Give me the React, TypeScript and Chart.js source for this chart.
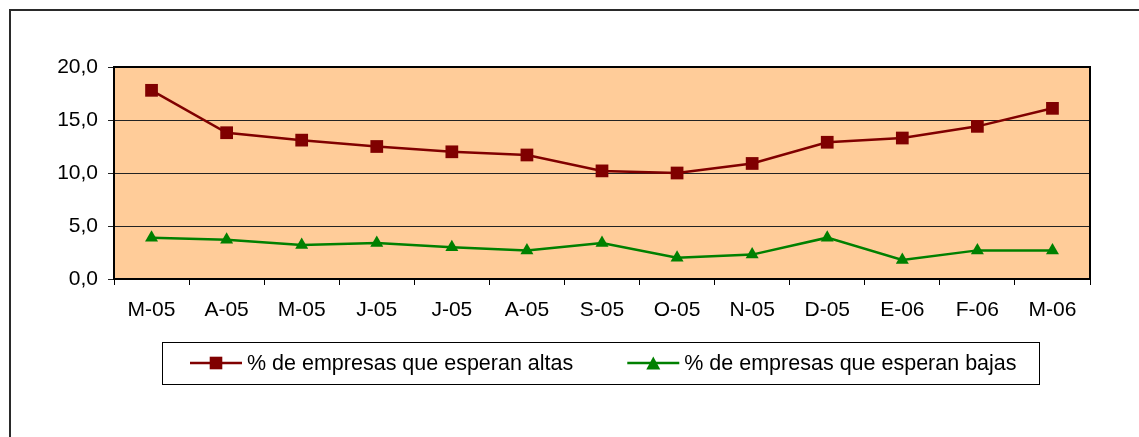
import { useEffect, useRef } from 'react';
import { Chart, registerables } from 'chart.js';

Chart.register(...registerables);

const categories = ['M-05', 'A-05', 'M-05', 'J-05', 'J-05', 'A-05', 'S-05', 'O-05', 'N-05', 'D-05', 'E-06', 'F-06', 'M-06'];
const altas = [17.8, 13.8, 13.1, 12.5, 12.0, 11.7, 10.2, 10.0, 10.9, 12.9, 13.3, 14.4, 16.1];
const bajas = [3.9, 3.7, 3.2, 3.4, 3.0, 2.7, 3.4, 2.0, 2.3, 3.9, 1.8, 2.7, 2.7];
const seriesLabels = ['% de empresas que esperan altas', '% de empresas que esperan bajas'];
const yTicks = [0, 5, 10, 15, 20];

const W = 1139;
const H = 437;
const FONT = '"Liberation Sans", Arial, Helvetica, sans-serif';
const ALTAS_COLOR = '#800000';
const BAJAS_COLOR = '#008000';
const PLOT_BG = '#FFCC99';

const framePlugin = {
  id: 'frame',
  beforeDraw(chart: any) {
    const { ctx, chartArea } = chart;
    ctx.save();
    ctx.fillStyle = '#ffffff';
    ctx.fillRect(0, 0, W, H);
    // outer border (top + left)
    ctx.fillStyle = '#2a2a2a';
    ctx.fillRect(9, 9, W - 9, 2);
    ctx.fillRect(9, 9, 2, H - 9);
    // plot background
    ctx.fillStyle = PLOT_BG;
    ctx.fillRect(chartArea.left, chartArea.top, chartArea.right - chartArea.left, chartArea.bottom - chartArea.top);
    ctx.restore();
  },
  beforeDatasetsDraw(chart: any) {
    const { ctx, chartArea } = chart;
    ctx.save();
    ctx.strokeStyle = '#000000';
    ctx.lineWidth = 2;
    ctx.strokeRect(chartArea.left, chartArea.top, chartArea.right - chartArea.left, chartArea.bottom - chartArea.top);
    ctx.restore();
  },
};

function drawMarker(ctx: CanvasRenderingContext2D, style: string, cx: number, cy: number, color: string) {
  ctx.fillStyle = color;
  if (style === 'rect') {
    ctx.fillRect(cx - 6.3, cy - 6.3, 12.6, 12.6);
  } else {
    ctx.beginPath();
    ctx.moveTo(cx, cy - 6.5);
    ctx.lineTo(cx + 7, cy + 6.5);
    ctx.lineTo(cx - 7, cy + 6.5);
    ctx.closePath();
    ctx.fill();
  }
}

const boxLegendPlugin = {
  id: 'boxLegend',
  afterDraw(chart: any) {
    const { ctx } = chart;
    const box = { l: 162, t: 342, r: 1039, b: 384 };
    ctx.save();
    ctx.fillStyle = '#ffffff';
    ctx.fillRect(box.l, box.t, box.r - box.l, box.b - box.t);
    ctx.strokeStyle = '#000000';
    ctx.lineWidth = 1;
    ctx.strokeRect(box.l + 0.5, box.t + 0.5, box.r - box.l, box.b - box.t);
    ctx.font = `21.5px ${FONT}`;
    ctx.textBaseline = 'middle';
    ctx.textAlign = 'left';
    const cy = (box.t + box.b) / 2;
    const lineW = 52;
    const textGap = 5;
    const itemGap = 54;
    let x = 190;
    chart.data.datasets.forEach((ds: any) => {
      ctx.strokeStyle = ds.borderColor;
      ctx.lineWidth = 2.5;
      ctx.beginPath();
      ctx.moveTo(x, cy);
      ctx.lineTo(x + lineW, cy);
      ctx.stroke();
      drawMarker(ctx, ds.pointStyle, x + lineW / 2, cy, ds.borderColor);
      ctx.fillStyle = '#000000';
      ctx.fillText(ds.label, x + lineW + textGap, cy + 1);
      x += lineW + textGap + ctx.measureText(ds.label).width + itemGap;
    });
    ctx.restore();
  },
};

export default function App() {
  const ref = useRef<HTMLCanvasElement | null>(null);

  useEffect(() => {
    if (!ref.current) return;
    const chart = new Chart(ref.current, {
      type: 'line',
      data: {
        labels: categories,
        datasets: [
          {
            label: seriesLabels[0],
            data: altas,
            borderColor: ALTAS_COLOR,
            backgroundColor: ALTAS_COLOR,
            borderWidth: 2.5,
            pointStyle: 'rect',
            pointRadius: 9,
            pointBorderWidth: 0,
            pointBackgroundColor: ALTAS_COLOR,
            tension: 0,
          },
          {
            label: seriesLabels[1],
            data: bajas,
            borderColor: BAJAS_COLOR,
            backgroundColor: BAJAS_COLOR,
            borderWidth: 2.5,
            pointStyle: 'triangle',
            pointRadius: 7.5,
            pointBorderWidth: 0,
            pointBackgroundColor: BAJAS_COLOR,
            tension: 0,
          },
        ],
      },
      options: {
        responsive: false,
        animation: false,
        devicePixelRatio: 1,
        layout: { padding: { left: 0, top: 67, right: W - 1090, bottom: 108 } },
        plugins: {
          legend: { display: false },
          tooltip: { enabled: false },
          title: { display: false },
        },
        scales: {
          x: {
            type: 'category',
            offset: true,
            border: { display: false },
            grid: {
              offset: true,
              drawOnChartArea: false,
              drawTicks: true,
              tickLength: 6,
              color: '#000000',
              lineWidth: 1,
            },
            ticks: {
              color: '#000000',
              font: { family: FONT, size: 21 },
              padding: 13,
              autoSkip: false,
              maxRotation: 0,
              minRotation: 0,
            },
            afterFit(scale: any) {
              scale.height = 50;
            },
          },
          y: {
            min: yTicks[0],
            max: yTicks[yTicks.length - 1],
            border: { display: false },
            grid: {
              color: '#222222',
              lineWidth: 1,
              tickLength: 6,
              drawTicks: true,
            },
            ticks: {
              stepSize: yTicks[1] - yTicks[0],
              color: '#000000',
              font: { family: FONT, size: 21 },
              padding: 10,
              callback: (v: any) => Number(v).toFixed(1).replace('.', ','),
            },
            afterFit(scale: any) {
              scale.width = 114;
            },
          },
        },
      },
      plugins: [framePlugin, boxLegendPlugin],
    });
    return () => chart.destroy();
  }, []);

  return (
    <div style={{ position: 'absolute', left: 0, top: 0, width: W, height: H, background: '#fff' }}>
      <canvas ref={ref} width={W} height={H} style={{ display: 'block', width: W, height: H }} />
    </div>
  );
}
